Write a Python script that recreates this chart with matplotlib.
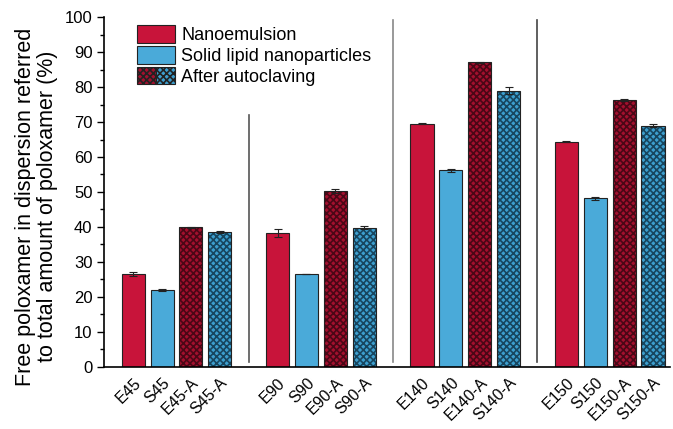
import matplotlib.pyplot as plt
import numpy as np
from matplotlib.patches import Patch
from matplotlib.legend_handler import HandlerTuple
from matplotlib.colors import to_rgba
from matplotlib.ticker import MultipleLocator

plt.rcParams['font.family'] = ['Liberation Sans', 'DejaVu Sans']
plt.rcParams['hatch.linewidth'] = 1.2

labels = ["E45", "S45", "E45-A", "S45-A",
          "E90", "S90", "E90-A", "S90-A",
          "E140", "S140", "E140-A", "S140-A",
          "E150", "S150", "E150-A", "S150-A"]
values = [26.5, 22.0, 39.9, 38.6,
          38.3, 26.5, 50.3, 39.8,
          69.5, 56.2, 87.1, 78.9,
          64.4, 48.2, 76.3, 68.9]
errors = [0.5, 0.2, 0.2, 0.3,
          1.2, 0.1, 0.6, 0.4,
          0.2, 0.5, 0.2, 1.0,
          0.2, 0.4, 0.2, 0.4]
kinds = ["E", "S", "EA", "SA"] * 4

RED = "#c8143a"
BLUE = "#4aaad9"
RED_A = "#a3102e"
BLUE_A = "#3d9fcf"
styles = {
    "E": dict(color=RED, hatch=None, hcol=None),
    "S": dict(color=BLUE, hatch=None, hcol=None),
    "EA": dict(color=RED_A, hatch="xxxxx", hcol="#4a0716"),
    "SA": dict(color=BLUE_A, hatch="xxxxx", hcol="#17465f"),
}

# four bars per group, one empty slot between groups
x = np.array([g * 5 + i for g in range(4) for i in range(4)])

fig = plt.figure(figsize=(6.73, 4.29), dpi=100)
ax = fig.add_axes([0.155, 0.145, 0.841, 0.815])

for xi, v, e, k in zip(x, values, errors, kinds):
    st = styles[k]
    b = ax.bar(xi, v, width=0.8, color=st["color"], edgecolor="#222222",
               linewidth=0.8, zorder=2)
    if st["hatch"]:
        b[0].set_hatch(st["hatch"])
        b[0]._hatch_color = to_rgba(st["hcol"])
    ax.errorbar(xi, v, yerr=e, fmt="none", ecolor="#222222", elinewidth=0.8,
                capsize=3, capthick=0.8, zorder=3)

# group separators
ax.plot([4, 4], [1.5, 72], color="#555555", lw=1.2, zorder=1)
ax.plot([9, 9], [1.5, 99.3], color="#888888", lw=1.2, zorder=1)
ax.plot([14, 14], [1.5, 99.3], color="#444444", lw=1.2, zorder=1)

ax.set_xlim(-1.0, 18.6)
ax.set_ylim(0, 100)
ax.yaxis.set_major_locator(MultipleLocator(10))
ax.yaxis.set_minor_locator(MultipleLocator(5))
ax.tick_params(axis="y", which="major", direction="out", length=5, width=1,
               labelsize=12)
ax.tick_params(axis="y", which="minor", direction="out", length=3, width=1)
ax.set_xticks(x)
ax.set_xticklabels(labels, rotation=45, ha="right", rotation_mode="anchor",
                   fontsize=11.5)
ax.tick_params(axis="x", length=0, pad=6)

for side in ["top", "right"]:
    ax.spines[side].set_visible(False)
for side in ["left", "bottom"]:
    ax.spines[side].set_linewidth(1.2)

ax.set_ylabel("Free poloxamer in dispersion referred\nto total amount of poloxamer (%)",
              fontsize=15.5, linespacing=1.05, multialignment="center")
ax.yaxis.set_label_coords(-0.082, 0.458)

handles = [
    Patch(facecolor=RED, edgecolor="#222222", linewidth=0.8),
    Patch(facecolor=BLUE, edgecolor="#222222", linewidth=0.8),
    (Patch(facecolor=RED_A, edgecolor="#222222", hatch="xxxxx", linewidth=0.8),
     Patch(facecolor=BLUE_A, edgecolor="#222222", hatch="xxxxx", linewidth=0.8)),
]
leg = ax.legend(handles, ["Nanoemulsion", "Solid lipid nanoparticles",
                          "After autoclaving"],
                loc="upper left", bbox_to_anchor=(0.058, 0.977), frameon=False,
                borderpad=0, borderaxespad=0,
                fontsize=13, handlelength=2.1, handleheight=1.1,
                handletextpad=0.35, labelspacing=0.12,
                handler_map={tuple: HandlerTuple(ndivide=None, pad=0)})

fig.savefig("out.png", dpi=100)
